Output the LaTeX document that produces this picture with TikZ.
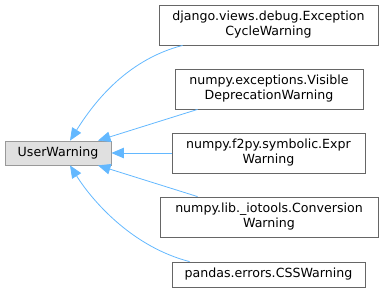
\documentclass[tikz,border=0pt]{standalone}
\usepackage{fontspec}
\setmainfont{DejaVu Sans}
\usetikzlibrary{arrows.meta}
\definecolor{edgeblue}{HTML}{63B8FF}
\definecolor{boxgray}{HTML}{666666}
\definecolor{basegray}{HTML}{999999}
\definecolor{basefill}{HTML}{E0E0E0}
\begin{document}
\begin{tikzpicture}[x=1pt,y=-1pt,
	cls/.style={draw=boxgray, fill=white, line width=0.8pt, align=center, inner sep=0pt, font=\fontsize{12.6}{15}\selectfont},
	parent/.style={cls, draw=basegray, fill=basefill},
	inh/.style={draw=edgeblue, line width=0.8pt, -{Triangle[length=12.5pt,width=10.5pt]}}]
	\useasboundingbox (0,0) rectangle (384,293);
	\node[parent, minimum width=106, minimum height=24] (uw) at (58,153) {UserWarning};
	% derived classes, one column
	\node[cls, minimum width=219, minimum height=40] (django) at (268.5,25) {django.views.debug.Exception\\CycleWarning};
	\node[cls, minimum width=188, minimum height=40] (visible) at (269,89) {numpy.exceptions.Visible\\DeprecationWarning};
	\node[cls, minimum width=193, minimum height=40] (expr) at (268.5,153) {numpy.f2py.symbolic.Expr\\Warning};
	\node[cls, minimum width=218, minimum height=40] (conv) at (269,217) {numpy.lib.\_iotools.Conversion\\Warning};
	\node[cls, minimum width=193, minimum height=25] (css) at (268.5,274.5) {pandas.errors.CSSWarning};
	% inheritance edges
	\draw[inh] ([xshift=24]django.south west) .. controls +(-58,15) and +(22,-35) .. ([xshift=12]uw.north);
	\draw[inh] ([xshift=23]visible.south west) -- ([xshift=40]uw.north);
	\draw[inh] (expr.west) -- (uw.east);
	\draw[inh] ([xshift=38]conv.north west) -- ([xshift=40]uw.south);
	\draw[inh] ([xshift=18]css.north west) .. controls +(-58,-15) and +(22,35) .. ([xshift=12]uw.south);
\end{tikzpicture}
\end{document}
